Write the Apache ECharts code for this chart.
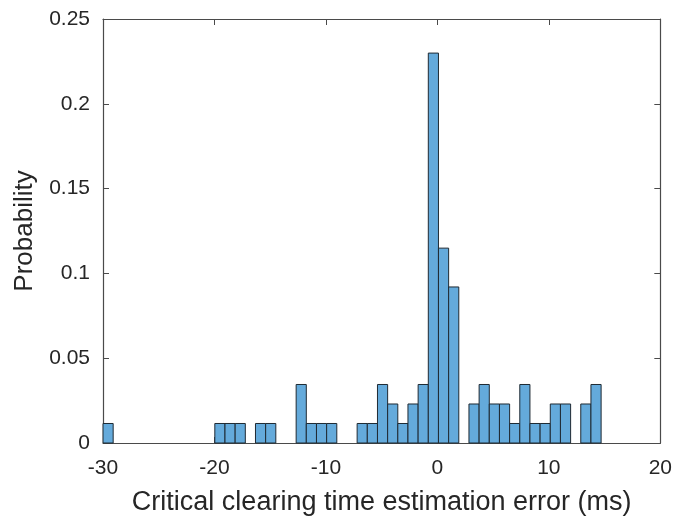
<!DOCTYPE html>
<html>
<head>
<meta charset="utf-8">
<script src="https://cdn.jsdelivr.net/npm/echarts@6/dist/echarts.min.js"></script>
<style>
  html, body { margin: 0; padding: 0; background: #fff; }
  #chart { width: 675px; height: 527px; }
</style>
</head>
<body>
<div id="chart"></div>
<script>
// Histogram of critical clearing time estimation error (probability per bin)
const binStart = -30;      // left edge of the first bin (ms)
const binWidth = 0.912;    // bin width (ms)
const probabilities = [
  0.0115, 0, 0, 0, 0, 0, 0, 0, 0, 0,
  0, 0.0115, 0.0115, 0.0115, 0, 0.0115, 0.0115, 0, 0, 0.0345,
  0.0115, 0.0115, 0.0115, 0, 0, 0.0115, 0.0115, 0.0345, 0.0230, 0.0115,
  0.0230, 0.0345, 0.2299, 0.1149, 0.0920, 0, 0.0230, 0.0345, 0.0230, 0.0230,
  0.0115, 0.0345, 0.0115, 0.0115, 0.0230, 0.0230, 0, 0.0230, 0.0345
];
const xTicks = [-30, -20, -10, 0, 10, 20];
const yTicks = [0, 0.05, 0.1, 0.15, 0.2, 0.25];

const xLabel = 'Critical clearing time estimation error (ms)';
const yLabel = 'Probability';

// [leftEdge, rightEdge, probability] for each bin
const bins = probabilities.map((p, i) => [
  binStart + i * binWidth,
  binStart + (i + 1) * binWidth,
  p
]);

const FONT = 'Liberation Sans, Arial, Helvetica, sans-serif';
const AXIS_COLOR = '#4a4a4a';
const TEXT_COLOR = '#262626';

const chart = echarts.init(document.getElementById('chart'), null, { renderer: 'canvas' });

const tickFmt = v => String(Math.round(v * 1000) / 1000);

const baseX = {
  type: 'value',
  min: xTicks[0],
  max: xTicks[xTicks.length - 1],
  interval: 10,
  splitLine: { show: false },
  axisLine: { show: true, onZero: false, lineStyle: { color: AXIS_COLOR, width: 1.2 } },
  axisTick: { show: true, inside: true, length: 6, lineStyle: { color: AXIS_COLOR } }
};
const baseY = {
  type: 'value',
  min: yTicks[0],
  max: yTicks[yTicks.length - 1],
  interval: 0.05,
  splitLine: { show: false },
  axisLine: { show: true, onZero: false, lineStyle: { color: AXIS_COLOR, width: 1.2 } },
  axisTick: { show: true, inside: true, length: 6, lineStyle: { color: AXIS_COLOR } }
};

chart.setOption({
  animation: false,
  backgroundColor: '#ffffff',
  grid: { left: 103, right: 14, top: 19, bottom: 84, containLabel: false },
  xAxis: [
    Object.assign({}, baseX, {
      position: 'bottom',
      name: xLabel,
      nameLocation: 'middle',
      nameGap: 46,
      nameTextStyle: { fontFamily: FONT, fontSize: 27, color: TEXT_COLOR },
      axisLabel: { fontFamily: FONT, fontSize: 21, color: TEXT_COLOR, margin: 15, formatter: tickFmt }
    }),
    Object.assign({}, baseX, { position: 'top', axisLabel: { show: false } })
  ],
  yAxis: [
    Object.assign({}, baseY, {
      position: 'left',
      name: yLabel,
      nameLocation: 'middle',
      nameGap: 65,
      nameTextStyle: { fontFamily: FONT, fontSize: 26, color: TEXT_COLOR },
      axisLabel: { fontFamily: FONT, fontSize: 21, color: TEXT_COLOR, margin: 13, formatter: tickFmt }
    }),
    Object.assign({}, baseY, { position: 'right', axisLabel: { show: false } })
  ],
  series: [{
    type: 'custom',
    xAxisIndex: 0,
    yAxisIndex: 0,
    data: bins,
    encode: { x: [0, 1], y: 2 },
    renderItem: function (params, api) {
      const h = api.value(2);
      if (!h) return null;
      const p0 = api.coord([api.value(0), 0]);
      const p1 = api.coord([api.value(1), h]);
      return {
        type: 'rect',
        shape: { x: p0[0], y: p1[1], width: p1[0] - p0[0], height: p0[1] - p1[1] },
        style: { fill: '#64aadb', stroke: '#1f2a33', lineWidth: 1 }
      };
    }
  }]
});
</script>
</body>
</html>
